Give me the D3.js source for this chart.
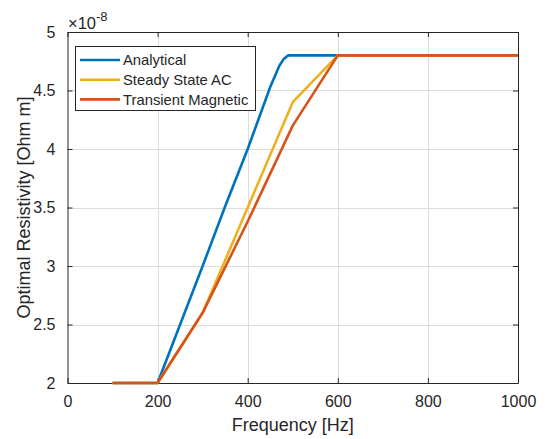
<!DOCTYPE html>
<html>
<head>
<meta charset="utf-8">
<script src="https://cdn.jsdelivr.net/npm/d3@7"></script>
<style>
html,body{margin:0;padding:0;background:#fff;}
svg{display:block;font-family:"Liberation Sans",Arial,Helvetica,sans-serif;}
</style>
</head>
<body>
<svg id="chart" width="547" height="439"></svg>
<script>
// Data (resistivity in units of 1e-8 Ohm m)
const freqAnalytical = [100, 200, 250, 300, 350, 400, 450, 470, 480, 490, 500, 600, 700, 800, 900, 1000];
const rhoAnalytical  = [2.0, 2.0, 2.5, 3.0, 3.51, 4.0, 4.53, 4.71, 4.77, 4.8, 4.8, 4.8, 4.8, 4.8, 4.8, 4.8];
const freqFEM        = [100, 200, 300, 400, 500, 600, 700, 800, 900, 1000];
const rhoSteadyAC    = [2.0, 2.0, 2.6, 3.5, 4.4, 4.8, 4.8, 4.8, 4.8, 4.8];
const rhoTransient   = [2.0, 2.0, 2.6, 3.38, 4.2, 4.8, 4.8, 4.8, 4.8, 4.8];
const seriesNames    = ["Analytical", "Steady State AC", "Transient Magnetic"];
const xTicks = [0, 200, 400, 600, 800, 1000];
const yTicks = [2, 2.5, 3, 3.5, 4, 4.5, 5];
const exponent = "-8";
const xLabel = "Frequency [Hz]";
const yLabel = "Optimal Resistivity [Ohm m]";

const colors = ["#0072BD", "#EDB120", "#D95319"];
const series = [
  {name: seriesNames[0], x: freqAnalytical, y: rhoAnalytical, color: colors[0]},
  {name: seriesNames[1], x: freqFEM, y: rhoSteadyAC, color: colors[1]},
  {name: seriesNames[2], x: freqFEM, y: rhoTransient, color: colors[2]}
];

const svg = d3.select("#chart");
const L = 67.5, R = 518, T = 32, B = 383;
const x = d3.scaleLinear().domain([0, 1000]).range([L, R]);
const y = d3.scaleLinear().domain([2, 5]).range([B, T]);
const axisColor = "#262626";
const tickFont = 16;

// grid
const grid = svg.append("g");
grid.selectAll("line.gx").data(xTicks.slice(1, -1)).enter().append("line")
  .attr("x1", d => Math.round(x(d)) + 0.5).attr("x2", d => Math.round(x(d)) + 0.5)
  .attr("y1", T).attr("y2", B).attr("stroke", "#dcdcdc").attr("stroke-width", 1);
grid.selectAll("line.gy").data(yTicks.slice(1, -1)).enter().append("line")
  .attr("y1", d => Math.round(y(d)) + 0.5).attr("y2", d => Math.round(y(d)) + 0.5)
  .attr("x1", L).attr("x2", R).attr("stroke", "#dcdcdc").attr("stroke-width", 1);

// axes
const fmtY = d => String(d);
const fmtX = d3.format("d");
const xAxisB = d3.axisBottom(x).tickValues(xTicks).tickSizeInner(-5).tickSizeOuter(0).tickPadding(13).tickFormat(fmtX);
const xAxisT = d3.axisTop(x).tickValues(xTicks).tickSizeInner(-5).tickSizeOuter(0).tickFormat("");
const yAxisL = d3.axisLeft(y).tickValues(yTicks).tickSizeInner(-5).tickSizeOuter(0).tickPadding(12).tickFormat(fmtY);
const yAxisR = d3.axisRight(y).tickValues(yTicks).tickSizeInner(-5).tickSizeOuter(0).tickFormat("");

function styleAxis(g) {
  g.selectAll("path").attr("stroke", axisColor).attr("stroke-width", 1);
  g.selectAll("line").attr("stroke", axisColor).attr("stroke-width", 1);
  g.selectAll("text").attr("fill", axisColor).attr("font-size", tickFont)
    .attr("font-family", "'Liberation Sans', Arial, sans-serif");
}
svg.append("g").attr("transform", `translate(0,${B})`).call(xAxisB).call(styleAxis);
svg.append("g").attr("transform", `translate(0,${T})`).call(xAxisT).call(styleAxis);
svg.append("g").attr("transform", `translate(${L},0)`).call(yAxisL).call(styleAxis);
svg.append("g").attr("transform", `translate(${R},0)`).call(yAxisR).call(styleAxis);

// lines
const clipId = "plotclip";
svg.append("clipPath").attr("id", clipId).append("rect")
  .attr("x", L).attr("y", T - 3).attr("width", R - L).attr("height", B - T + 6);
const line = d3.line().x(d => x(d[0])).y(d => y(d[1]));
const lg = svg.append("g").attr("clip-path", `url(#${clipId})`);
series.forEach(s => {
  lg.append("path")
    .datum(s.x.map((v, i) => [v, s.y[i]]))
    .attr("d", line)
    .attr("fill", "none")
    .attr("stroke", s.color)
    .attr("stroke-width", 2.6)
    .attr("stroke-linejoin", "round");
});

// exponent label
const ex = svg.append("text").attr("x", L + 0.5).attr("y", 28.5)
  .attr("fill", axisColor).attr("font-size", 16.5);
ex.append("tspan").text("\u00d710");
ex.append("tspan").attr("dy", -8).attr("font-size", 13).text(exponent);

// axis labels
svg.append("text").attr("x", (L + R) / 2).attr("y", 431)
  .attr("text-anchor", "middle").attr("fill", axisColor).attr("font-size", 18)
  .text(xLabel);
svg.append("text").attr("transform", `translate(30,${(T + B) / 2}) rotate(-90)`)
  .attr("text-anchor", "middle").attr("fill", axisColor).attr("font-size", 18)
  .text(yLabel);

// legend
const leg = svg.append("g");
leg.append("rect").attr("x", 75.5).attr("y", 46.5).attr("width", 180).attr("height", 64)
  .attr("fill", "#fff").attr("stroke", axisColor).attr("stroke-width", 1);
series.forEach((s, i) => {
  const cy = 60 + i * 19.7;
  leg.append("line").attr("x1", 80).attr("x2", 120).attr("y1", cy).attr("y2", cy)
    .attr("stroke", s.color).attr("stroke-width", 2.6);
  leg.append("text").attr("x", 123).attr("y", cy).attr("dy", "0.35em")
    .attr("fill", axisColor).attr("font-size", 14.8).text(s.name);
});
</script>
</body>
</html>
